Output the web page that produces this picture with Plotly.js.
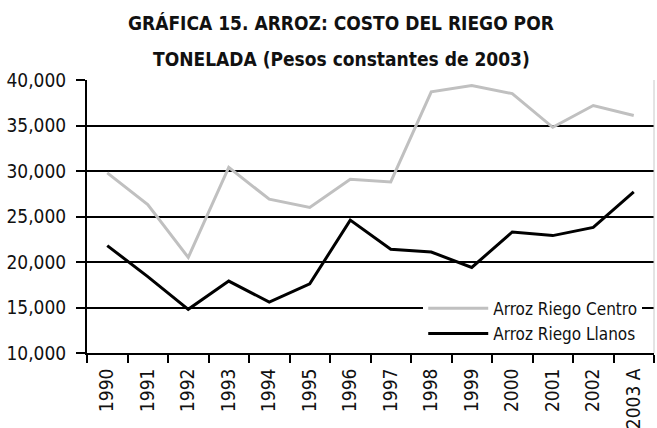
<!DOCTYPE html>
<html>
<head>
<meta charset="utf-8">
<script src="https://cdn.plot.ly/plotly-3.0.1.min.js"></script>
<style>html,body{margin:0;padding:0;background:#fff;}#chart{width:657px;height:428px;}</style>
</head>
<body>
<div id="chart"></div>
<script>
const years = ["1990","1991","1992","1993","1994","1995","1996","1997","1998","1999","2000","2001","2002","2003 A"];
const centro = [29800,26300,20500,30400,26900,26000,29100,28800,38700,39400,38500,34800,37200,36100];
const llanos = [21800,18400,14800,17900,15600,17600,24600,21400,21100,19400,23300,22900,23800,27700];
const yTicks = [10000,15000,20000,25000,30000,35000,40000];
const titleLines = ["GRÁFICA 15. ARROZ: COSTO DEL RIEGO POR","TONELADA (Pesos constantes de 2003)"];
const seriesNames = ["Arroz Riego Centro","Arroz Riego Llanos"];

const FONT = "'Liberation Sans Narrow','Arial Narrow','DejaVu Sans Condensed',sans-serif";

const traces = [
  {x: years, y: centro, name: seriesNames[0], type: 'scatter', mode: 'lines',
   line: {color: '#c0c0c0', width: 3}},
  {x: years, y: llanos, name: seriesNames[1], type: 'scatter', mode: 'lines',
   line: {color: '#000000', width: 3}}
];

const layout = {
  width: 657, height: 428,
  margin: {l: 87, r: 3, t: 80, b: 75, pad: 0},
  paper_bgcolor: '#fff', plot_bgcolor: '#fff',
  font: {family: FONT, size: 19, color: '#111'},
  showlegend: true,
  legend: {x: 0.593, y: 0.228, xanchor: 'left', yanchor: 'top', bgcolor: '#fff',
           borderwidth: 0, font: {family: FONT, size: 17, color: '#111'},
           tracegroupgap: 0, itemwidth: 60},
  xaxis: {type: 'category', tickson: 'boundaries', ticks: 'outside', ticklen: 8, tickwidth: 2,
          tickcolor: '#000', showline: true, linecolor: '#000', linewidth: 2,
          showgrid: false, tickangle: -90, range: [-0.5, 13.5], ticklabelstandoff: 6,
          tickfont: {family: FONT, size: 19, color: '#111'}},
  yaxis: {range: [10000, 40000], tickvals: yTicks, tickformat: ',d', ticks: 'outside',
          ticklen: 9, tickwidth: 2, tickcolor: '#000', showline: true, linecolor: '#000',
          linewidth: 2, showgrid: true, gridcolor: '#000', gridwidth: 2, zeroline: false,
          ticklabelstandoff: 6,
          tickfont: {family: FONT, size: 19, color: '#111'}},
  shapes: [{type: 'line', xref: 'paper', yref: 'paper', x0: 1, x1: 1, y0: 0, y1: 1,
            line: {color: '#c8c8c8', width: 1}}],
  annotations: [
    {text: '<b>' + titleLines[0] + '</b>', xref: 'paper', yref: 'paper', x: 0.448, y: 1.209,
     xanchor: 'center', yanchor: 'middle', showarrow: false, font: {family: FONT, size: 19, color: '#111'}},
    {text: '<b>' + titleLines[1] + '</b>', xref: 'paper', yref: 'paper', x: 0.448, y: 1.077,
     xanchor: 'center', yanchor: 'middle', showarrow: false, font: {family: FONT, size: 19, color: '#111'}}
  ]
};

Plotly.newPlot('chart', traces, layout, {displayModeBar: false, staticPlot: true});
</script>
</body>
</html>
